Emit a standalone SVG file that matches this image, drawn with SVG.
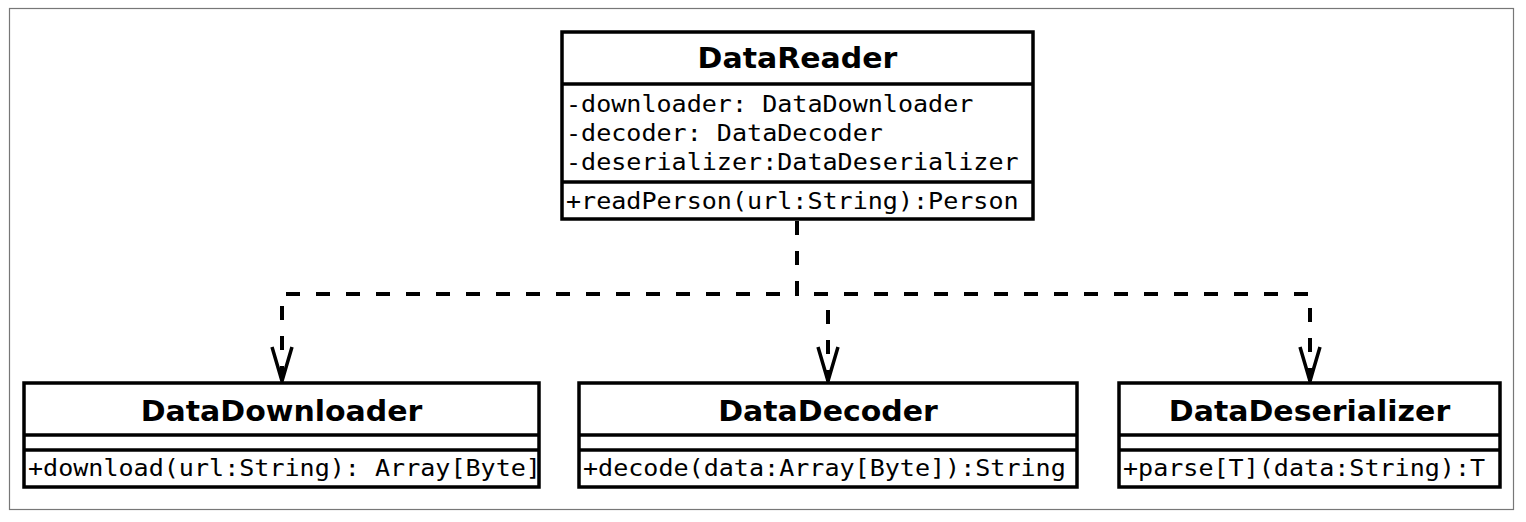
<svg xmlns="http://www.w3.org/2000/svg" width="1526" height="522" viewBox="0 0 1526 522">
<style>
.box{fill:#fff;stroke:#000;stroke-width:3.5}
.sep{stroke:#000;stroke-width:3.5;fill:none}
.hdr{font-family:"DejaVu Sans","Liberation Sans",sans-serif;font-weight:bold;font-size:27.5px;fill:#000;text-anchor:middle}
.mono{font-family:"DejaVu Sans Mono","Liberation Mono",monospace;font-size:23px;fill:#000}
.dep{fill:none;stroke:#000;stroke-width:4;stroke-dasharray:14 16}
.head{fill:none;stroke:#000;stroke-width:3.5;stroke-linejoin:miter}
</style>
<defs>
<clipPath id="c1"><rect x="26" y="452" width="511" height="33"/></clipPath>
<clipPath id="c2"><rect x="581" y="452" width="494" height="33"/></clipPath>
<clipPath id="c3"><rect x="1121" y="452" width="377" height="33"/></clipPath>
</defs>
<rect x="0" y="0" width="1526" height="522" fill="#fff"/>
<rect x="9.5" y="8.5" width="1504" height="501" fill="#fff" stroke="#777" stroke-width="1.2"/>

<g id="connectors">
<path class="dep" d="M797,221 V294 H282 V381"/>
<path class="dep" d="M797,221 V294 H828 V381"/>
<path class="dep" d="M797,221 V294 H1310 V381"/>
<path class="head" d="M272,347 L282,381 L292,347"/>
<path class="head" d="M818,347 L828,381 L838,347"/>
<path class="head" d="M1300,347 L1310,381 L1320,347"/>
</g>

<g id="DataReader">
<rect class="box" x="562" y="32" width="471" height="187"/>
<line class="sep" x1="562" y1="84" x2="1033" y2="84"/>
<line class="sep" x1="562" y1="182" x2="1033" y2="182"/>
<text class="hdr" transform="translate(797.5,68) scale(1.09,1)">DataReader</text>
<text class="mono" transform="translate(566,111.5) scale(1.09,1)">-downloader: DataDownloader</text>
<text class="mono" transform="translate(566,140.5) scale(1.09,1)">-decoder: DataDecoder</text>
<text class="mono" transform="translate(566,169.5) scale(1.09,1)">-deserializer:DataDeserializer</text>
<text class="mono" transform="translate(566,209) scale(1.09,1)">+readPerson(url:String):Person</text>
</g>

<g id="DataDownloader">
<rect class="box" x="24" y="383" width="515" height="104"/>
<line class="sep" x1="24" y1="435" x2="539" y2="435"/>
<line class="sep" x1="24" y1="450" x2="539" y2="450"/>
<text class="hdr" transform="translate(281.5,421) scale(1.09,1)">DataDownloader</text>
<g clip-path="url(#c1)"><text class="mono" transform="translate(28,476) scale(1.09,1)">+download(url:String): Array[Byte]</text></g>
</g>

<g id="DataDecoder">
<rect class="box" x="579" y="383" width="498" height="104"/>
<line class="sep" x1="579" y1="435" x2="1077" y2="435"/>
<line class="sep" x1="579" y1="450" x2="1077" y2="450"/>
<text class="hdr" transform="translate(828,421) scale(1.09,1)">DataDecoder</text>
<g clip-path="url(#c2)"><text class="mono" transform="translate(583,476) scale(1.09,1)">+decode(data:Array[Byte]):String</text></g>
</g>

<g id="DataDeserializer">
<rect class="box" x="1119" y="383" width="381" height="104"/>
<line class="sep" x1="1119" y1="435" x2="1500" y2="435"/>
<line class="sep" x1="1119" y1="450" x2="1500" y2="450"/>
<text class="hdr" transform="translate(1309.5,421) scale(1.09,1)">DataDeserializer</text>
<g clip-path="url(#c3)"><text class="mono" transform="translate(1123,476) scale(1.09,1)">+parse[T](data:String):T</text></g>
</g>
</svg>
